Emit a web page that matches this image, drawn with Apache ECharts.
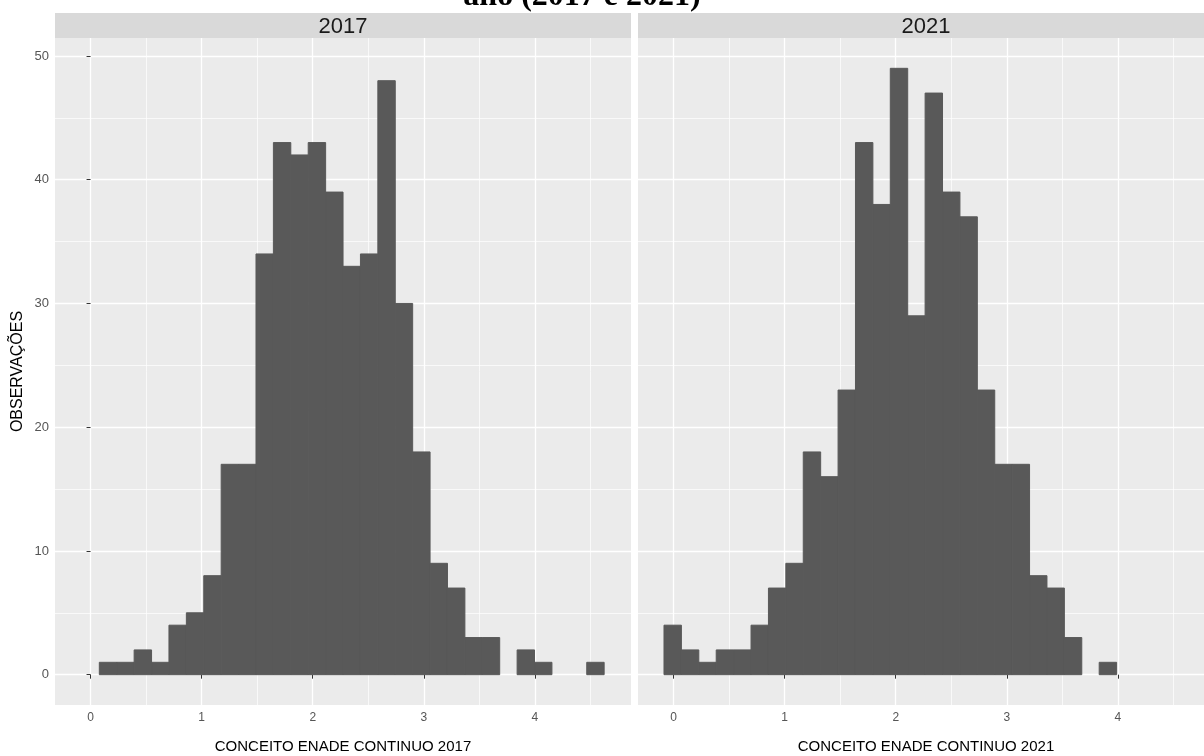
<!DOCTYPE html>
<html>
<head>
<meta charset="utf-8">
<script src="https://cdn.jsdelivr.net/npm/echarts/dist/echarts.min.js"></script>
<style>
  html, body { margin: 0; padding: 0; background: #fff; }
  #main { width: 1204px; height: 756px; }
</style>
</head>
<body>
<div id="main"></div>
<script>
var binWidth = 0.1567;
var start2017 = 0.079;
var counts2017 = [1, 1, 2, 1, 4, 5, 8, 17, 17, 34, 43, 42, 43, 39, 33, 34, 48, 30, 18, 9, 7, 3, 3, 0, 2, 1, 0, 0, 1];
var start2021 = -0.086;
var counts2021 = [4, 2, 1, 2, 2, 4, 7, 9, 18, 16, 23, 43, 38, 49, 29, 47, 39, 37, 23, 17, 17, 8, 7, 3, 0, 1];
var xTicks = [0, 1, 2, 3, 4];
var yTicks = [0, 10, 20, 30, 40, 50];
var panels = ['2017', '2021'];

var chartDom = document.getElementById('main');
var myChart = echarts.init(chartDom);
var option;

function toBins(start, counts) {
    return counts.map(function (c, i) {
        return [start + i * binWidth, start + (i + 1) * binWidth, c];
    });
}

function renderBar(params, api) {
    if (!api.value(2)) return null;
    var p0 = api.coord([api.value(0), api.value(2)]);
    var p1 = api.coord([api.value(1), 0]);
    return {
        type: 'rect',
        shape: { x: p0[0], y: p0[1], width: p1[0] - p0[0], height: p1[1] - p0[1] },
        style: { fill: '#595959', stroke: '#595959', lineWidth: 1 }
    };
}

var gridLeft = [55, 638];
var panelW = 576;

function xAxisFor(i) {
    return {
        type: 'value',
        gridIndex: i,
        min: -0.32,
        max: 4.865,
        splitNumber: 5,
        name: 'CONCEITO ENADE CONTINUO ' + panels[i],
        nameLocation: 'middle',
        nameGap: 34,
        nameTextStyle: { color: '#000', fontSize: 15, fontFamily: 'Liberation Sans' },
        axisLine: { show: false },
        axisTick: { show: true, length: 4, lineStyle: { color: '#333', width: 1 }, customValues: xTicks },
        axisLabel: { color: '#555', fontSize: 12, margin: 7, fontFamily: 'Liberation Sans', customValues: xTicks },
        splitLine: { show: true, lineStyle: { color: '#ffffff', width: 1.3 } },
        minorTick: { show: false, splitNumber: 2 },
        minorSplitLine: { show: true, lineStyle: { color: '#ffffff', width: 0.7 } }
    };
}

function yAxisFor(i) {
    return {
        type: 'value',
        gridIndex: i,
        min: -2.45,
        max: 51.45,
        splitNumber: 5,
        name: i === 0 ? 'OBSERVAÇÕES' : '',
        nameLocation: 'middle',
        nameRotate: 90,
        nameGap: 29,
        nameTextStyle: { color: '#000', fontSize: 16, fontFamily: 'Liberation Sans' },
        axisLine: { show: false },
        axisTick: { show: i === 0, length: 4, lineStyle: { color: '#333', width: 1 }, customValues: yTicks },
        axisLabel: { show: i === 0, color: '#555', fontSize: 13, margin: 6, fontFamily: 'Liberation Sans', customValues: yTicks },
        splitLine: { show: true, lineStyle: { color: '#ffffff', width: 1.3 } },
        minorTick: { show: false, splitNumber: 2 },
        minorSplitLine: { show: true, lineStyle: { color: '#ffffff', width: 0.7 } }
    };
}

option = {
    backgroundColor: '#ffffff',
    animation: false,
    grid: [
        { left: gridLeft[0], top: 38, width: panelW, height: 667, outerBoundsMode: 'none', containLabel: false, show: true, backgroundColor: '#ebebeb', borderWidth: 0 },
        { left: gridLeft[1], top: 38, width: panelW, height: 667, outerBoundsMode: 'none', containLabel: false, show: true, backgroundColor: '#ebebeb', borderWidth: 0 }
    ],
    xAxis: [xAxisFor(0), xAxisFor(1)],
    yAxis: [yAxisFor(0), yAxisFor(1)],
    graphic: [
        {
            type: 'text',
            style: {
                text: 'ano (2017 e 2021)',
                x: 582, y: 13,
                textAlign: 'center',
                textVerticalAlign: 'bottom',
                fill: '#000',
                font: 'bold 32px "Liberation Serif"'
            },
            z: 10
        },
        { type: 'rect', shape: { x: gridLeft[0], y: 13, width: panelW, height: 25 }, style: { fill: '#d9d9d9' } },
        { type: 'rect', shape: { x: gridLeft[1], y: 13, width: panelW, height: 25 }, style: { fill: '#d9d9d9' } },
        {
            type: 'text',
            style: { text: panels[0], x: gridLeft[0] + panelW / 2, y: 27, textAlign: 'center', textVerticalAlign: 'middle', fill: '#1a1a1a', font: '22px "Liberation Sans"' }
        },
        {
            type: 'text',
            style: { text: panels[1], x: gridLeft[1] + panelW / 2, y: 27, textAlign: 'center', textVerticalAlign: 'middle', fill: '#1a1a1a', font: '22px "Liberation Sans"' }
        }
    ],
    series: [
        {
            name: panels[0],
            type: 'custom',
            xAxisIndex: 0,
            yAxisIndex: 0,
            renderItem: renderBar,
            encode: { x: [0, 1], y: 2 },
            data: toBins(start2017, counts2017)
        },
        {
            name: panels[1],
            type: 'custom',
            xAxisIndex: 1,
            yAxisIndex: 1,
            renderItem: renderBar,
            encode: { x: [0, 1], y: 2 },
            data: toBins(start2021, counts2021)
        }
    ]
};

option && myChart.setOption(option);
</script>
</body>
</html>
